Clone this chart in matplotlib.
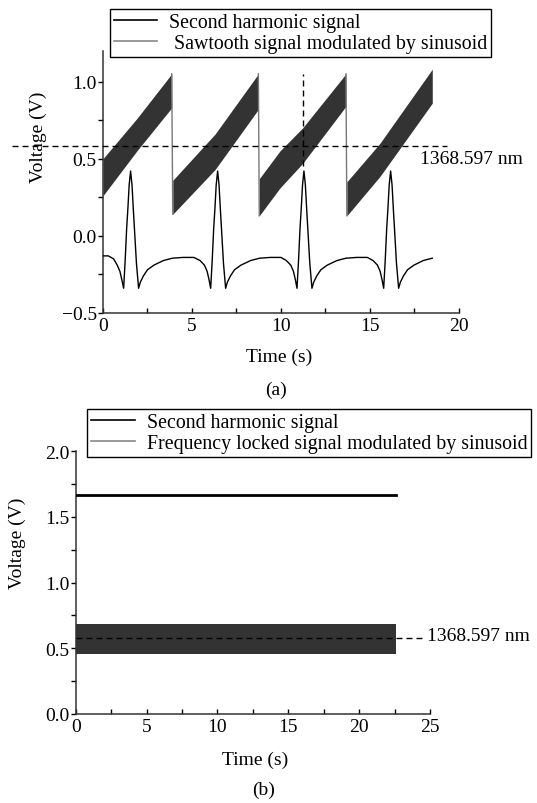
import numpy as np
import matplotlib.pyplot as plt
from matplotlib.lines import Line2D
from matplotlib.ticker import MultipleLocator, FuncFormatter

plt.rcParams['font.family'] = ['Liberation Serif', 'DejaVu Serif']
plt.rcParams['font.size'] = 14

# (a) rampas de la señal diente de sierra: tiempo, borde inferior y superior de la banda
r1_t = [0.0, 1.9, 3.86]
r1_lo = [0.26, 0.55, 0.83]
r1_hi = [0.50, 0.76, 1.05]
r2_t = [3.92, 6.3, 8.73]
r2_lo = [0.14, 0.43, 0.82]
r2_hi = [0.36, 0.66, 1.05]
r3_t = [8.78, 9.94, 11.22, 13.65]
r3_lo = [0.13, 0.31, 0.47, 0.84]
r3_hi = [0.37, 0.55, 0.70, 1.05]
r4_t = [13.70, 15.56, 18.5]
r4_lo = [0.13, 0.385, 0.86]
r4_hi = [0.35, 0.60, 1.08]
rampas = [(r1_t, r1_lo, r1_hi), (r2_t, r2_lo, r2_hi),
          (r3_t, r3_lo, r3_hi), (r4_t, r4_lo, r4_hi)]

# (a) señal de segundo armonico
sh_t = [0.0, 0.3, 0.6, 0.8, 0.95, 1.05, 1.16, 1.25, 1.33, 1.40, 1.47, 1.55, 1.63, 1.70, 1.78, 1.88,
        2.0, 2.1, 2.27, 2.5, 2.86, 3.4, 3.9, 4.5, 5.1,
        5.45, 5.7, 5.85, 5.95, 6.05, 6.14, 6.22, 6.29, 6.36, 6.44, 6.52, 6.59, 6.67, 6.77,
        6.89, 6.99, 7.16, 7.39, 7.75, 8.3, 8.8, 9.4, 10.0,
        10.3, 10.55, 10.7, 10.8, 10.9, 10.99, 11.07, 11.14, 11.21, 11.29, 11.37, 11.44, 11.52, 11.62,
        11.74, 11.84, 12.01, 12.24, 12.6, 13.15, 13.65, 14.25, 14.85,
        15.17, 15.42, 15.57, 15.67, 15.77, 15.86, 15.94, 16.01, 16.08, 16.16, 16.24, 16.31, 16.39, 16.49,
        16.61, 16.71, 16.88, 17.11, 17.47, 18.0, 18.5]
sh_v = [-0.13, -0.13, -0.15, -0.19, -0.23, -0.28, -0.34, -0.15, 0.05, 0.18, 0.33, 0.42, 0.33, 0.18, 0.02, -0.18,
        -0.34, -0.30, -0.26, -0.22, -0.19, -0.16, -0.145, -0.14, -0.14,
        -0.16, -0.19, -0.23, -0.28, -0.34, -0.15, 0.05, 0.18, 0.33, 0.42, 0.33, 0.18, 0.02, -0.18,
        -0.34, -0.30, -0.26, -0.22, -0.19, -0.16, -0.145, -0.14, -0.14,
        -0.16, -0.19, -0.23, -0.28, -0.34, -0.15, 0.05, 0.18, 0.33, 0.42, 0.33, 0.18, 0.02, -0.18,
        -0.34, -0.30, -0.26, -0.22, -0.19, -0.16, -0.145, -0.14, -0.14,
        -0.16, -0.19, -0.23, -0.28, -0.34, -0.15, 0.05, 0.18, 0.33, 0.42, 0.33, 0.18, 0.02, -0.18,
        -0.34, -0.30, -0.26, -0.22, -0.19, -0.16, -0.145]

# (b) señal enganchada en frecuencia y segundo armonico
tb = [0.0, 22.6]
sh_b = [1.665, 1.665]
lock_lo = [0.46, 0.46]
lock_hi = [0.685, 0.685]

lam = 0.58          # nivel de 1368.597 nm
t_marca = 11.22     # linea vertical en (a)

gris = '#333333'
dash = (4.3, 2.9)


def menos(v, pos):
    return f"{v:.1f}".replace('-', '\u2212')


def ejes(ax, xmax, ymin, ymax, ymaj):
    ax.set_xlim(0, xmax)
    ax.set_ylim(ymin, ymax)
    ax.spines['top'].set_visible(False)
    ax.spines['right'].set_visible(False)
    for s in ['left', 'bottom']:
        ax.spines[s].set_color('#333333')
        ax.spines[s].set_linewidth(1.1)
    ax.xaxis.set_major_locator(MultipleLocator(5))
    ax.xaxis.set_minor_locator(MultipleLocator(2.5))
    ax.yaxis.set_major_locator(MultipleLocator(ymaj))
    ax.yaxis.set_minor_locator(MultipleLocator(ymaj / 2))
    ax.yaxis.set_major_formatter(FuncFormatter(menos))
    ax.tick_params(axis='x', which='both', direction='in', length=3.5, width=1, pad=3, labelsize=14)
    ax.tick_params(axis='y', which='both', direction='out', length=3.5, width=1, pad=1, labelsize=14)


fig = plt.figure(figsize=(5.37, 8.04), dpi=100)
ax1 = fig.add_axes([0.1918, 0.6095, 0.6629, 0.3262])
ax2 = fig.add_axes([0.141, 0.1107, 0.6598, 0.3271])

# Grafica (a)
for t, lo, hi in rampas:
    ax1.fill_between(t, lo, hi, color=gris, lw=0, zorder=2)
for i in range(len(rampas) - 1):
    t, lo, hi = rampas[i]
    tn, lon, hin = rampas[i + 1]
    ax1.plot([t[-1], tn[0]], [hi[-1], lon[0]], color='#777777', lw=1, zorder=2)
ax1.plot(sh_t, sh_v, color='black', lw=1, zorder=3)
ax1.plot([-5.1, 19.3], [lam, lam], color='black', lw=1, dashes=dash, clip_on=False, zorder=4)
ax1.plot([t_marca, t_marca], [0.45, 1.05], color='black', lw=1, dashes=dash, zorder=4)
ax1.text(17.8, 0.5, '1368.597 nm', ha='left', va='center', fontsize=14, clip_on=False)
ejes(ax1, 20, -0.5, 1.2, 0.5)
ax1.legend(handles=[Line2D([], [], color='black', lw=1.2),
                    Line2D([], [], color='#888888', lw=1.2)],
           labels=['Second harmonic signal', ' Sawtooth signal modulated by sinusoid'],
           loc='upper left', bbox_to_anchor=(0.2041, 0.988), bbox_transform=fig.transFigure,
           borderaxespad=0, frameon=True, fancybox=False, edgecolor='black', framealpha=1,
           handlelength=2.2, handletextpad=0.6, borderpad=0.2, labelspacing=0.1, fontsize=14.3)
ax1.get_legend().get_frame().set_linewidth(1)

# Grafica (b)
ax2.fill_between(tb, lock_lo, lock_hi, color=gris, lw=0, zorder=2)
ax2.plot(tb, sh_b, color='black', lw=2, zorder=3)
ax2.plot([0, 24.5], [lam, lam], color='black', lw=1, dashes=dash, clip_on=False, zorder=4)
ax2.text(24.8, 0.6, '1368.597 nm', ha='left', va='center', fontsize=14, clip_on=False)
ejes(ax2, 25, 0, 2.0, 0.5)
ax2.legend(handles=[Line2D([], [], color='black', lw=1.2),
                    Line2D([], [], color='#888888', lw=1.2)],
           labels=['Second harmonic signal', 'Frequency locked signal modulated by sinusoid'],
           loc='upper left', bbox_to_anchor=(0.1626, 0.49), bbox_transform=fig.transFigure,
           borderaxespad=0, frameon=True, fancybox=False, edgecolor='black', framealpha=1,
           handlelength=2.2, handletextpad=0.6, borderpad=0.2, labelspacing=0.1, fontsize=14.3)
ax2.get_legend().get_frame().set_linewidth(1)

# rotulos de ejes y subtitulos
fig.text(0.0708, 0.8296, 'Voltage (V)', rotation=90, ha='center', va='center', fontsize=14)
fig.text(0.5196, 0.556, 'Time (s)', ha='center', va='center', fontsize=14)
fig.text(0.514, 0.515, '(a)', ha='center', va='center', fontsize=14)
fig.text(0.0326, 0.3246, 'Voltage (V)', rotation=90, ha='center', va='center', fontsize=14)
fig.text(0.475, 0.0547, 'Time (s)', ha='center', va='center', fontsize=14)
fig.text(0.49, 0.0174, '(b)', ha='center', va='center', fontsize=14)

fig.savefig('out.png', dpi=100)
